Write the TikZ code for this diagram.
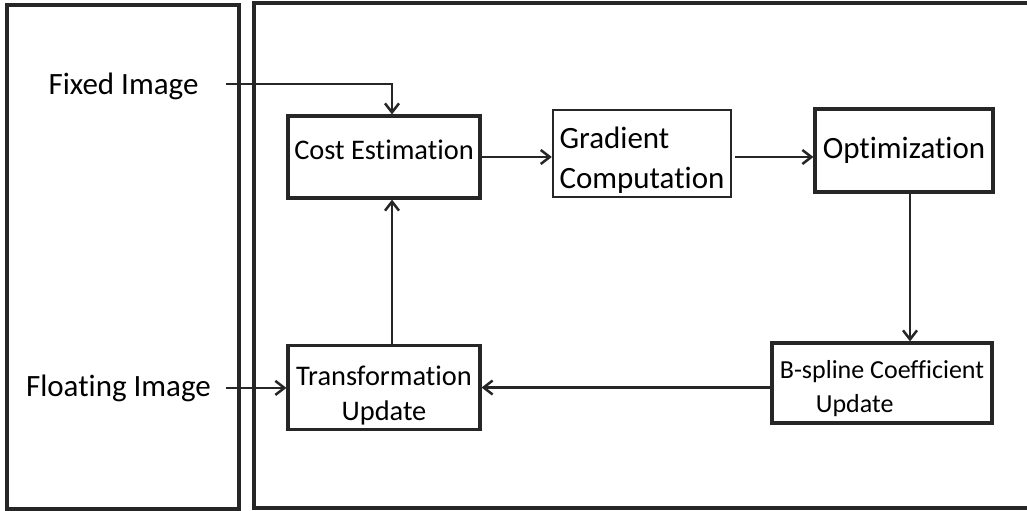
\documentclass[tikz,border=0pt]{standalone}
\usepackage{fontspec}
\setmainfont{Carlito}[Ligatures={NoCommon,NoRare,NoContextual}]
\usetikzlibrary{arrows.meta}

\begin{document}
\begin{tikzpicture}
[
	x=0.5pt, y=-0.5pt,
	>={Straight Barb[length=4.5pt,width=7pt]},
	panel/.style={line width=1.6pt,draw=black!85},
	block/.style={rectangle,draw=black!85,line width=1.6pt,inner sep=2pt,align=center,font=\fontsize{14.2}{17.5}\selectfont},
	bigblock/.style={block,font=\fontsize{15.5}{20}\selectfont},
	inlabel/.style={inner sep=0pt,anchor=base,font=\fontsize{15.5}{18}\selectfont},
	flow/.style={->,line width=1.25pt,draw=black!85}
]

	\useasboundingbox (0,0) rectangle (1027,510);

	% panels
	\draw[panel] (7,5) rectangle (239,509);
	\draw[panel] (1030,3) -- (254,3) -- (254,508) -- (1030,508);

	% inputs
	\node[inlabel] (fixed) at (123.5,94) {Fixed Image};
	\node[inlabel] (floating) at (118.5,396) {Floating Image};

	% blocks
	\node[block,minimum width=96pt,minimum height=41pt] (cost) at (384,157) {Cost Estimation\rule[-7pt]{0pt}{0pt}};
	\node[bigblock,line width=1.2pt,align=left,inner xsep=3pt,minimum width=89pt,minimum height=40.5pt] (grad) at (642,153.5) {\rule{0pt}{17pt}Gradient\\Computation};
	\node[bigblock,inner xsep=1pt,minimum width=89pt,minimum height=41.5pt] (opt) at (904,150.5) {Optimization};
	\node[block,align=left,inner xsep=2pt,minimum width=110pt,minimum height=40pt,font=\fontsize{13}{17}\selectfont] (bsp) at (882,383) {\rule{0pt}{15pt}B-spline Coefficient\\\hspace{18pt}Update};
	\node[block,minimum width=96pt,minimum height=40.5pt] (trans) at (384,387.5) {\rule{0pt}{18pt}Transformation\\Update};

	% connectors
	\draw[flow] ([xshift=13.5pt,yshift=1pt]fixed.east) -| ([xshift=4pt]cost.north);
	\draw[flow] ([xshift=7.5pt]floating.east) -- (floating.east -| trans.west);
	\draw[flow] ([xshift=4pt]trans.north) -- ([xshift=4pt]cost.south);
	\draw[flow] (cost.east) -- (cost.east -| grad.west);
	\draw[flow] ([xshift=1.5pt]grad.east |- cost.east) -- (cost.east -| opt.west);
	\draw[flow] ([xshift=3pt]opt.south) -- ([xshift=3pt]opt.south |- bsp.north);
	\draw[flow] (trans.east -| bsp.west) -- (trans.east);

\end{tikzpicture}
\end{document}
